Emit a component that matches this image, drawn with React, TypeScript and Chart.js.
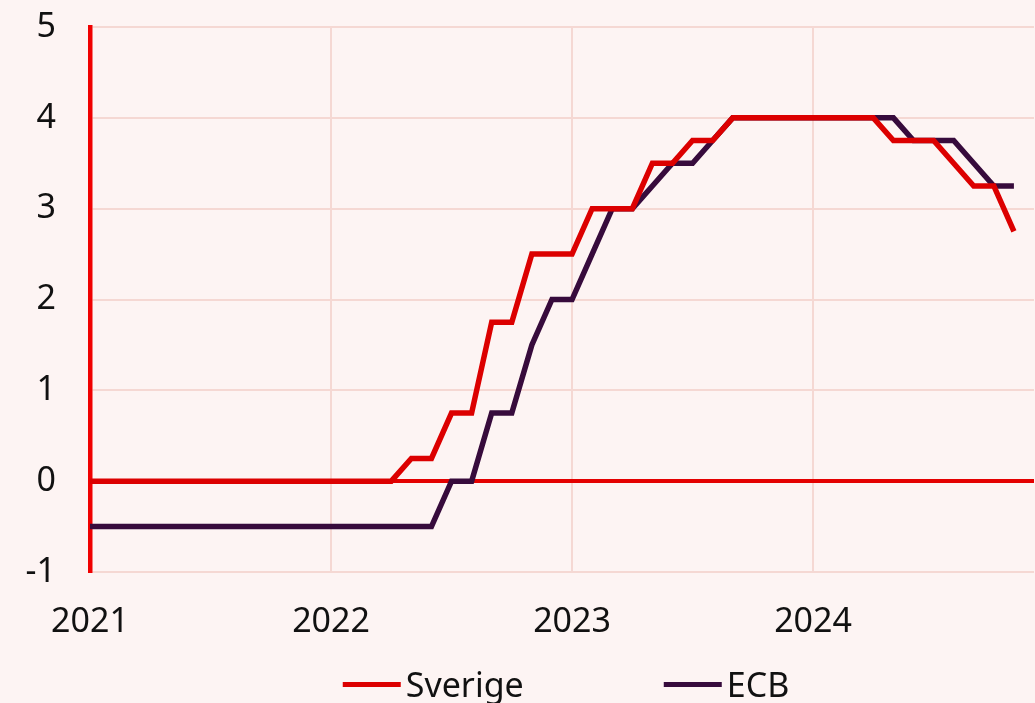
import React, { useEffect, useRef } from "react";
import Chart from "chart.js/auto";

// Monthly observations, Jan 2021 – Dec 2024
const months: string[] = [];
for (const y of [2021, 2022, 2023, 2024]) {
  for (let m = 1; m <= 12; m++) months.push(`${y}-${String(m).padStart(2, "0")}`);
}

const sverige: (number | null)[] = [
  0, 0, 0, 0, 0, 0, 0, 0, 0, 0, 0, 0,
  0, 0, 0, 0, 0.25, 0.25, 0.75, 0.75, 1.75, 1.75, 2.5, 2.5,
  2.5, 3.0, 3.0, 3.0, 3.5, 3.5, 3.75, 3.75, 4.0, 4.0, 4.0, 4.0,
  4.0, 4.0, 4.0, 4.0, 3.75, 3.75, 3.75, 3.5, 3.25, 3.25, 2.75, null,
];

const ecb: (number | null)[] = [
  -0.5, -0.5, -0.5, -0.5, -0.5, -0.5, -0.5, -0.5, -0.5, -0.5, -0.5, -0.5,
  -0.5, -0.5, -0.5, -0.5, -0.5, -0.5, 0, 0, 0.75, 0.75, 1.5, 2.0,
  2.0, 2.5, 3.0, 3.0, 3.25, 3.5, 3.5, 3.75, 4.0, 4.0, 4.0, 4.0,
  4.0, 4.0, 4.0, 4.0, 4.0, 3.75, 3.75, 3.75, 3.5, 3.25, 3.25, null,
];

const seriesLabels = ["Sverige", "ECB"];
const seriesColors = ["#dc0000", "#370b3c"];

const yMin = -1;
const yMax = 5;

const BG = "#fdf4f3";
const GRID = "#f5d8d3";
const AXIS_RED = "#f00000";
const ZERO_RED = "#e40000";
const FONT = "'Noto Sans', 'Open Sans', sans-serif";
const FONT_SIZE = 34;

const customLegend = {
  id: "customLegend",
  afterDraw(chart: any) {
    const ctx = chart.ctx as CanvasRenderingContext2D;
    const area = chart.chartArea;
    const lineW = 58;
    const gapText = 5;
    const spacing = 140;
    ctx.save();
    ctx.font = `${FONT_SIZE}px ${FONT}`;
    const items = chart.data.datasets.map((ds: any) => {
      const tw = ctx.measureText(ds.label).width;
      return { label: ds.label, color: ds.borderColor, w: lineW + gapText + tw };
    });
    const total = items.reduce((s: number, it: any) => s + it.w, 0) + spacing * (items.length - 1);
    let x = (area.left + area.right) / 2 - total / 2 + 4;
    const y = chart.height - 19;
    for (const it of items) {
      ctx.fillStyle = it.color;
      ctx.fillRect(x, y - 2, lineW, 5);
      ctx.fillStyle = "#111111";
      ctx.textBaseline = "middle";
      ctx.textAlign = "left";
      ctx.fillText(it.label, x + lineW + gapText, y + 3);
      x += it.w + spacing;
    }
    ctx.restore();
  },
};

const noPad = (scale: any) => {
  scale.paddingTop = 0;
  scale.paddingBottom = 0;
  scale.paddingLeft = 0;
  scale.paddingRight = 0;
};

export default function App() {
  const canvasRef = useRef<HTMLCanvasElement | null>(null);

  useEffect(() => {
    if (!canvasRef.current) return;
    const chart = new Chart(canvasRef.current, {
      type: "line",
      data: {
        labels: months,
        datasets: [
          {
            label: seriesLabels[0],
            data: sverige,
            borderColor: seriesColors[0],
            backgroundColor: seriesColors[0],
            borderWidth: 5.5,
            pointRadius: 0,
            tension: 0,
          },
          {
            label: seriesLabels[1],
            data: ecb,
            borderColor: seriesColors[1],
            backgroundColor: seriesColors[1],
            borderWidth: 5.5,
            pointRadius: 0,
            tension: 0,
          },
        ],
      },
      options: {
        animation: false,
        responsive: false,
        devicePixelRatio: 1,
        layout: { padding: { top: 27, left: 0, right: 1, bottom: 0 } },
        font: { family: FONT },
        plugins: {
          legend: { display: false },
          tooltip: { enabled: false },
        },
        scales: {
          x: {
            type: "category",
            offset: false,
            afterFit: (scale: any) => {
              scale.height = 131;
              noPad(scale);
            },
            border: { display: false },
            grid: {
              drawTicks: false,
              lineWidth: 2,
              color: (c: any) => (c.index % 12 === 0 && c.index > 0 ? GRID : "rgba(0,0,0,0)"),
            },
            ticks: {
              autoSkip: false,
              maxRotation: 0,
              minRotation: 0,
              padding: 30,
              color: "#111111",
              font: { family: FONT, size: FONT_SIZE },
              callback: (_v: any, i: number) => (i % 12 === 0 ? months[i].slice(0, 4) : ""),
            },
          },
          y: {
            min: yMin,
            max: yMax,
            afterFit: (scale: any) => {
              scale.width = 90;
              noPad(scale);
            },
            border: { display: true, color: AXIS_RED, width: 4.5 },
            grid: {
              drawTicks: false,
              color: (c: any) => (c.tick && c.tick.value === 0 ? ZERO_RED : GRID),
              lineWidth: (c: any) => (c.tick && c.tick.value === 0 ? 4 : 2),
            },
            ticks: {
              stepSize: 1,
              padding: 34,
              color: "#111111",
              font: { family: FONT, size: FONT_SIZE },
            },
          },
        },
      },
      plugins: [customLegend],
    });
    return () => chart.destroy();
  }, []);

  return (
    <div
      style={{
        position: "fixed",
        left: 0,
        top: 0,
        width: 1035,
        height: 703,
        background: BG,
        overflow: "hidden",
      }}
    >
      <canvas ref={canvasRef} width={1035} height={703} style={{ display: "block" }} />
    </div>
  );
}
